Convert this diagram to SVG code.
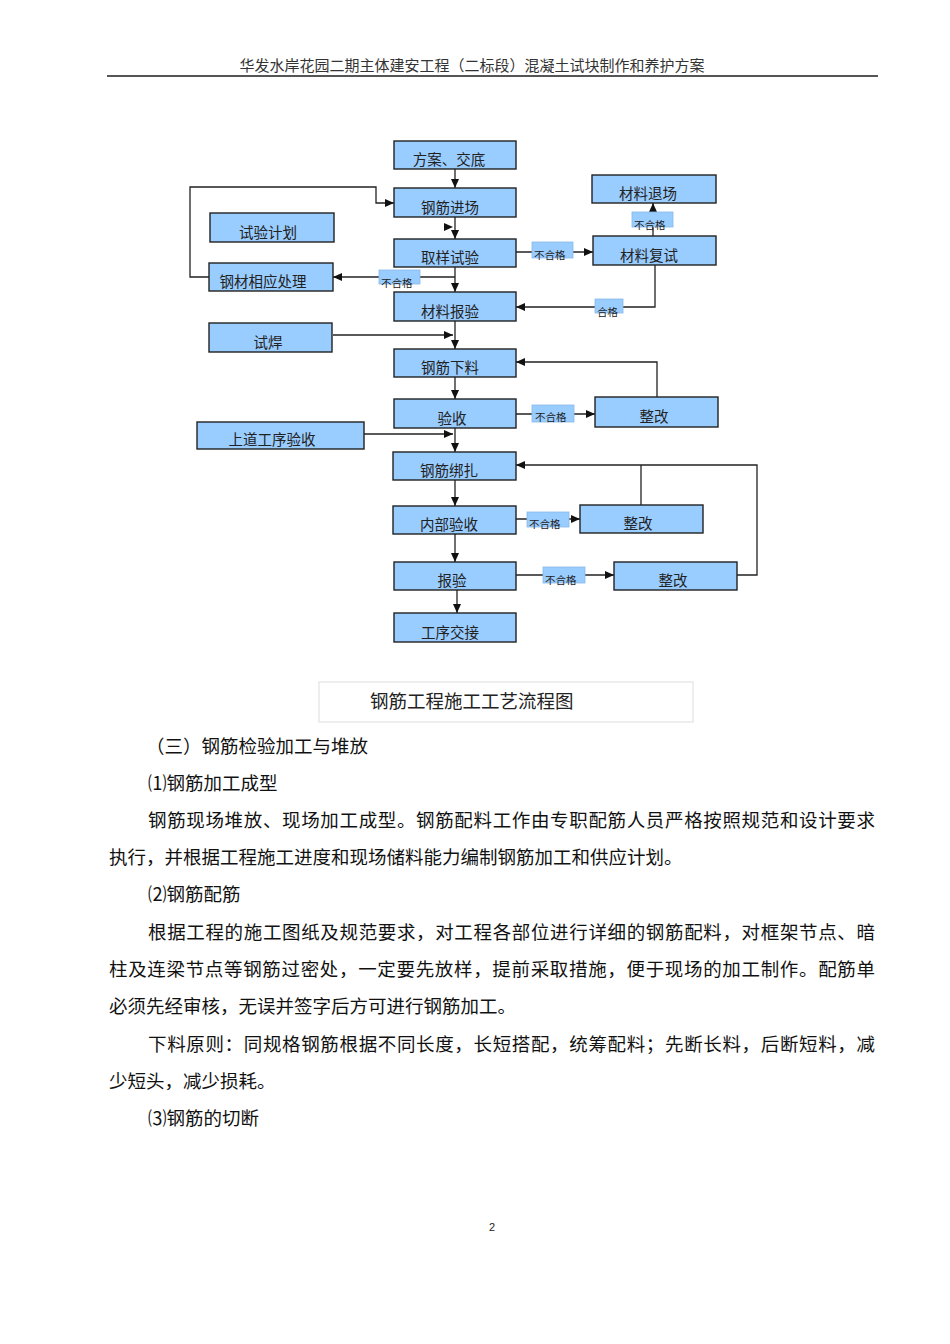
<svg xmlns="http://www.w3.org/2000/svg" width="950" height="1344" viewBox="0 0 950 1344">
<defs>
<style>
text{font-family:"Noto Sans CJK SC","Liberation Sans",sans-serif;}
.box{fill:#99CCFF;stroke:#222;stroke-width:1.4;}
.nl{font-size:14.5px;fill:#222;text-anchor:middle;}
.lb{fill:#99CCFF;stroke:#8ab8e8;stroke-width:0.8;}
.lt{font-size:10.5px;fill:#222;}
.cn{fill:none;stroke:#222;stroke-width:1.3;}
.body{font-size:18.5px;fill:#111;}
</style>
<marker id="ah" markerUnits="userSpaceOnUse" markerWidth="9" markerHeight="8" refX="9" refY="4" orient="auto">
<path d="M0,0 L9,4 L0,8 z" fill="#111"/>
</marker>
<linearGradient id="gl" x1="0" y1="0" x2="1" y2="0">
<stop offset="0" stop-color="#e0e0e0"/>
<stop offset="0.5" stop-color="#b8b8b8"/>
<stop offset="1" stop-color="#d8d8d8"/>
</linearGradient>
</defs>
<rect width="950" height="1344" fill="#fff"/>

<g id="header">
<text x="472" y="71" font-size="15" fill="#333" text-anchor="middle">华发水岸花园二期主体建安工程（二标段）混凝土试块制作和养护方案</text>
<line x1="107" y1="76" x2="878" y2="76" stroke="#555" stroke-width="2"/>
</g>

<g id="connectors">
<path class="cn" d="M455,169 V188" marker-end="url(#ah)"/>
<path class="cn" d="M209,277 H190 V187 H376 V203 H394" marker-end="url(#ah)"/>
<path d="M340,227 H453" stroke="url(#gl)" stroke-width="1.6" fill="none" marker-end="url(#ah)"/>
<path class="cn" d="M455,217 V239" marker-end="url(#ah)"/>
<path class="cn" d="M516,252 H593" marker-end="url(#ah)"/>
<path class="cn" d="M653,236 V203" marker-end="url(#ah)"/>
<path class="cn" d="M655,265 V307 H516" marker-end="url(#ah)"/>
<path class="cn" d="M455,267 V292" marker-end="url(#ah)"/>
<path class="cn" d="M455,277 H333" marker-end="url(#ah)"/>
<path class="cn" d="M455,321 V349" marker-end="url(#ah)"/>
<path class="cn" d="M333,335 H453" marker-end="url(#ah)"/>
<path class="cn" d="M455,377 V399" marker-end="url(#ah)"/>
<path class="cn" d="M657,397 V362 H516" marker-end="url(#ah)"/>
<path class="cn" d="M516,414 H595" marker-end="url(#ah)"/>
<path class="cn" d="M455,428 V452" marker-end="url(#ah)"/>
<path class="cn" d="M364,434 H453" marker-end="url(#ah)"/>
<path class="cn" d="M455,480 V506" marker-end="url(#ah)"/>
<path class="cn" d="M516,519 H580" marker-end="url(#ah)"/>
<path class="cn" d="M641,505 V465"/>
<path class="cn" d="M737,575 H757 V465 H641"/>
<path class="cn" d="M641,465 H516" stroke-width="2.2" marker-end="url(#ah)"/>
<path class="cn" d="M455,534 V562" marker-end="url(#ah)"/>
<path class="cn" d="M516,575 H614" marker-end="url(#ah)"/>
<path class="cn" d="M457,577 V613" marker-end="url(#ah)"/>
</g>

<g id="n1"><rect class="box" x="394" y="141" width="122" height="28"/><text class="nl" x="449" y="165">方案、交底</text></g>
<g id="n2"><rect class="box" x="394" y="188" width="122" height="29"/><text class="nl" x="450" y="213">钢筋进场</text></g>
<g id="n3"><rect class="box" x="210" y="213" width="124" height="29"/><text class="nl" x="268" y="238">试验计划</text></g>
<g id="n4"><rect class="box" x="394" y="239" width="122" height="28"/><text class="nl" x="450" y="263">取样试验</text></g>
<g id="n5"><rect class="box" x="209" y="263" width="124" height="28"/><text class="nl" x="263" y="287">钢材相应处理</text></g>
<g id="n6"><rect class="box" x="394" y="292" width="122" height="29"/><text class="nl" x="450" y="317">材料报验</text></g>
<g id="n7"><rect class="box" x="592" y="175" width="124" height="28"/><text class="nl" x="648" y="199">材料退场</text></g>
<g id="n8"><rect class="box" x="593" y="236" width="123" height="29"/><text class="nl" x="649" y="261">材料复试</text></g>
<g id="n9"><rect class="box" x="209" y="323" width="123" height="29"/><text class="nl" x="268" y="348">试焊</text></g>
<g id="n10"><rect class="box" x="394" y="349" width="122" height="28"/><text class="nl" x="450" y="373">钢筋下料</text></g>
<g id="n11"><rect class="box" x="394" y="399" width="122" height="29"/><text class="nl" x="452" y="424">验收</text></g>
<g id="n12"><rect class="box" x="595" y="397" width="123" height="30"/><text class="nl" x="654" y="422">整改</text></g>
<g id="n13"><rect class="box" x="197" y="422" width="167" height="27"/><text class="nl" x="272" y="445">上道工序验收</text></g>
<g id="n14"><rect class="box" x="393" y="452" width="123" height="28"/><text class="nl" x="449" y="476">钢筋绑扎</text></g>
<g id="n15"><rect class="box" x="393" y="506" width="123" height="28"/><text class="nl" x="449" y="530">内部验收</text></g>
<g id="n16"><rect class="box" x="580" y="505" width="123" height="28"/><text class="nl" x="638" y="529">整改</text></g>
<g id="n17"><rect class="box" x="394" y="562" width="122" height="28"/><text class="nl" x="452" y="586">报验</text></g>
<g id="n18"><rect class="box" x="614" y="562" width="123" height="28"/><text class="nl" x="673" y="586">整改</text></g>
<g id="n19"><rect class="box" x="394" y="613" width="122" height="29"/><text class="nl" x="450" y="638">工序交接</text></g>

<g id="labels">
<rect class="lb" x="532" y="242" width="41" height="16"/><text class="lt" x="534" y="259">不合格</text>
<rect class="lb" x="632" y="212" width="41" height="15"/><text class="lt" x="634" y="229">不合格</text>
<rect class="lb" x="379" y="270" width="41" height="14"/><text class="lt" x="381" y="287">不合格</text>
<rect class="lb" x="595" y="299" width="28" height="14"/><text class="lt" x="597" y="316">合格</text>
<rect class="lb" x="532" y="405" width="42" height="17"/><text class="lt" x="535" y="421">不合格</text>
<rect class="lb" x="527" y="512" width="42" height="15"/><text class="lt" x="529" y="528">不合格</text>
<rect class="lb" x="543" y="567" width="42" height="16"/><text class="lt" x="545" y="584">不合格</text>
</g>

<g id="caption">
<rect x="319" y="682" width="374" height="40" fill="none" stroke="#ddd" stroke-width="1"/>
<text x="370" y="708" font-size="18.5" fill="#222">钢筋工程施工工艺流程图</text>
</g>

<g id="bodytext">
<text class="body" x="146" y="753">（三）钢筋检验加工与堆放</text>
<text class="body" x="148" y="790">⑴钢筋加工成型</text>
<text class="body" x="148" y="827" textLength="727" lengthAdjust="spacing">钢筋现场堆放、现场加工成型。钢筋配料工作由专职配筋人员严格按照规范和设计要求</text>
<text class="body" x="109" y="864">执行，并根据工程施工进度和现场储料能力编制钢筋加工和供应计划。</text>
<text class="body" x="148" y="901">⑵钢筋配筋</text>
<text class="body" x="148" y="939" textLength="727" lengthAdjust="spacing">根据工程的施工图纸及规范要求，对工程各部位进行详细的钢筋配料，对框架节点、暗</text>
<text class="body" x="109" y="976" textLength="766" lengthAdjust="spacing">柱及连梁节点等钢筋过密处，一定要先放样，提前采取措施，便于现场的加工制作。配筋单</text>
<text class="body" x="109" y="1013">必须先经审核，无误并签字后方可进行钢筋加工。</text>
<text class="body" x="148" y="1051" textLength="727" lengthAdjust="spacing">下料原则：同规格钢筋根据不同长度，长短搭配，统筹配料；先断长料，后断短料，减</text>
<text class="body" x="109" y="1088">少短头，减少损耗。</text>
<text class="body" x="148" y="1125">⑶钢筋的切断</text>
</g>

<g id="footer">
<text x="492" y="1231" font-size="11" fill="#222" text-anchor="middle" style="font-family:'Liberation Sans',sans-serif">2</text>
</g>
</svg>
